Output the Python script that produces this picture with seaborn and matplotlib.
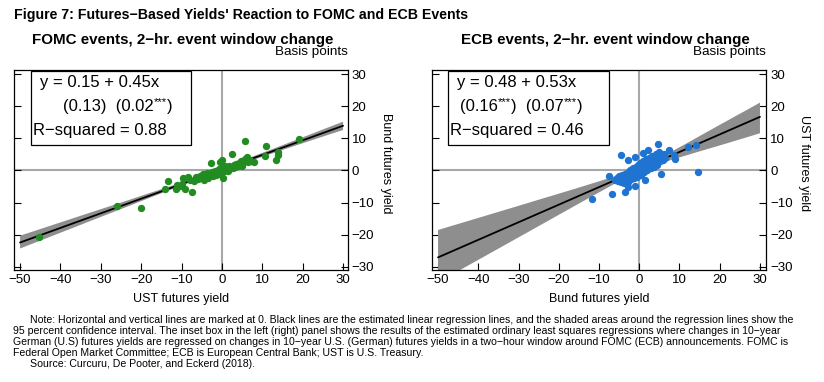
import numpy as np
import matplotlib
matplotlib.use("Agg")
import matplotlib.pyplot as plt
from matplotlib.patches import Rectangle
import seaborn as sns

# FOMC events: UST futures yield (x) vs Bund futures yield (y), basis points
fomc_ust = [-45.2, -25.9, -20.1, -14.0, -13.4, -11.2, -11.3, -10.5, -9.9, -9.7,
            -9.1, -8.5, -8.0, -7.3, -7.0, -6.5, -6.0, -5.5, -5.0, -4.8,
            -4.5, -4.0, -3.8, -3.5, -3.0, -2.8, -2.5, -2.2, -2.0, -1.6,
            -1.4, -1.0, -0.8, -0.5, -0.4, -0.2, 0.0, 0.0, 0.2, 0.3,
            0.6, 0.8, 1.0, 1.3, 1.6, 1.8, 2.0, 2.3, 2.6, 2.8,
            3.0, 3.3, 3.6, 3.9, 4.2, 4.5, 4.8, 5.0, 5.3, 5.6,
            5.8, 6.2, 6.5, 6.8, 7.2, 7.9, 10.6, 10.9, 13.5, 13.8,
            14.0, 19.2]
fomc_bund = [-20.6, -11.1, -11.6, -5.7, -3.3, -4.4, -5.7, -4.8, -4.2, -2.3,
             -5.7, -1.9, -3.0, -6.6, -3.2, -2.0, -2.6, -1.6, -2.4, -1.2,
             -3.0, -1.8, -0.9, -2.4, -1.2, 2.4, -0.6, -1.8, -0.9, -0.3,
             -1.4, -0.6, 0.4, -1.0, 2.6, 0.2, 3.1, -0.4, -2.3, 0.8,
             -0.2, 1.3, 0.4, 0.9, -0.1, 1.5, 0.7, 1.2, 5.0, 0.6,
             1.6, 1.0, 2.0, 1.4, 2.4, 1.8, 2.9, 1.5, 2.6, 9.0,
             3.4, 4.2, 2.5, 3.1, 2.8, 2.6, 4.4, 7.7, 3.3, 5.6,
             4.7, 9.7]

# ECB events: Bund futures yield (x) vs UST futures yield (y), basis points
ecb_bund = [-11.8, -7.5, -6.8, -4.6, -3.5, -2.7, -2.7, -1.1, -1.0, 1.0,
            1.5, 2.2, 4.6, 5.3, 6.0, 7.3, 8.7, 9.0, 12.0, 14.1, 14.7,
            -6.0, -5.6, -5.2, -5.0, -4.8, -4.5, -4.3, -4.0, -3.8, -3.6,
            -3.4, -3.2, -3.0, -2.9, -2.7, -2.5, -2.4, -2.2, -2.0, -1.9,
            -1.8, -1.6, -1.5, -1.3, -1.2, -1.0, -0.9, -0.8, -0.6, -0.5,
            -0.4, -0.2, -0.1, 0.0, 0.1, 0.2, 0.3, 0.4, 0.5, 0.6,
            0.7, 0.8, 0.9, 1.0, 1.1, 1.2, 1.3, 1.4, 1.6, 1.7,
            1.8, 2.0, 2.1, 2.3, 2.4, 2.6, 2.8, 2.9, 3.1, 3.2,
            3.4, 3.6, 3.7, 3.9, 4.1, 4.3, 4.5, 4.7, 4.9, 5.1,
            5.4, 5.7, 6.2, 6.5]
ecb_ust = [-8.75, -1.8, -7.3, 4.7, -6.8, -5.2, 3.3, -4.7, 4.2, 5.5,
           -2.9, 6.2, 8.3, -1.0, 3.1, 6.25, 4.7, 3.6, 7.3, 7.8, -0.5,
           -3.0, -2.4, -3.3, -1.8, -2.8, -3.6, -1.4, -2.6, -4.0, -1.2,
           -2.0, -2.8, -0.8, -3.6, -1.6, -2.4, 0.0, -1.2, -2.8, -0.4,
           -1.8, 0.6, -1.0, -2.4, 0.0, -1.2, 1.2, -0.6, -2.0, 0.6,
           -0.8, 1.6, -0.2, -1.4, 0.8, 2.4, -0.4, 1.2, -1.4, 0.4,
           1.8, -0.2, 1.0, 2.8, 0.2, 1.6, -0.6, 2.4, 0.8, 3.4,
           1.4, 0.2, 2.4, 1.2, 4.0, 2.0, 0.8, 3.0, 1.8, 4.4,
           2.4, 1.2, 3.6, 2.2, 5.0, 3.0, 1.8, 4.0, 5.6, 2.8,
           4.6, 3.4, 5.0, 3.8]

ticks = [-50, -40, -30, -20, -10, 0, 10, 20, 30]
yticks = [-30, -20, -10, 0, 10, 20, 30]

fomc_box = ["y = 0.15 + 0.45x", ["(0.13)  (0.02", "***", ")"], "R\u2212squared = 0.88"]
ecb_box = ["y = 0.48 + 0.53x", ["(0.16", "***", ")  (0.07", "***", ")"], "R\u2212squared = 0.46"]

sns.set_style("white")
plt.rcParams['font.family'] = ['Liberation Sans', 'DejaVu Sans']
plt.rcParams['axes.unicode_minus'] = True
plt.rcParams['text.color'] = 'black'

W, H = 824, 382
fig = plt.figure(figsize=(W / 100, H / 100), dpi=100)


def fx(px):
    return px / W


def fy(py):
    return 1 - py / H


def rich_line(ax, x, y, parts, fs):
    # normal pieces and small raised asterisks, chained one after another
    first = ax.text(x, y, parts[0], transform=ax.transAxes, fontsize=fs,
                    va='center', ha='left', zorder=6)
    prev = first
    for i, p in enumerate(parts[1:], start=1):
        if i % 2 == 1:
            prev = ax.annotate(p, xy=(1, 0.5), xycoords=prev, fontsize=fs * 0.68,
                               va='bottom', ha='left', zorder=6)
        else:
            prev = ax.annotate(p, xy=(1, 0), xycoords=(prev, first), fontsize=fs,
                               va='bottom', ha='left', zorder=6)


def panel(left, right, x, y, color, xlim, box, box_x, line2_x, xlabel, ylabel):
    ax = fig.add_axes([fx(left), fy(270), (right - left) / W, 200 / H])
    ax.axhline(0, color='#a8a8a8', lw=1.5, zorder=0)
    ax.axvline(0, color='#a8a8a8', lw=1.5, zorder=0)
    ax.set_xlim(-50, 30)
    sns.regplot(x=np.array(x), y=np.array(y), ax=ax, ci=95, seed=3, truncate=False,
                scatter_kws=dict(s=28, color=color, linewidths=0, alpha=1, zorder=4),
                line_kws=dict(color='black', lw=1.3, zorder=3))
    for coll in ax.collections:
        if 'Poly' in coll.__class__.__name__:
            coll.set_facecolor('#8e8e8e')
            coll.set_edgecolor('none')
            coll.set_alpha(1)
            coll.set_zorder(2)
    ax.set_xlim(*xlim)
    ax.set_ylim(-31.0, 31.25)
    ax.set_xticks(ticks)
    ax.set_yticks(yticks)
    ax.tick_params(axis='both', direction='in', length=5, width=0.8, labelsize=9.5,
                   left=True, right=True, labelleft=False, labelright=True,
                   bottom=True, top=False, pad=3, colors='black')
    for s in ax.spines.values():
        s.set_visible(True)
        s.set_color('black')
        s.set_linewidth(0.9)
    # inset box with regression results
    ax.add_patch(Rectangle((box_x, 0.625), 0.48, 0.368, transform=ax.transAxes,
                           facecolor='white', edgecolor='black', lw=0.9, zorder=5))
    ax.text(box_x + 0.027, 0.936, box[0], transform=ax.transAxes, fontsize=12,
            va='center', ha='left', zorder=6)
    rich_line(ax, line2_x, 0.816, box[1], 12)
    ax.text(box_x + 0.006, 0.696, box[2], transform=ax.transAxes, fontsize=12,
            va='center', ha='left', zorder=6)
    ax.text(0.5, -0.145, xlabel, transform=ax.transAxes, fontsize=9,
            ha='center', va='center')
    ax.text(1.115, 0.535, ylabel, transform=ax.transAxes, fontsize=9,
            ha='center', va='center', rotation=270)
    return ax


axL = panel(14, 347.5, fomc_ust, fomc_bund, '#228b22', (-51.5, 31.1), fomc_box,
            0.051, 0.147, 'UST futures yield', 'Bund futures yield')
axR = panel(432, 766, ecb_bund, ecb_ust, '#1e74d0', (-51.5, 31.5), ecb_box,
            0.049, 0.085, 'Bund futures yield', 'UST futures yield')

fig.text(fx(14), fy(15), "Figure 7: Futures\u2212Based Yields' Reaction to FOMC and ECB Events",
         fontsize=10.2, fontweight='bold', ha='left', va='center')
fig.text(fx(32), fy(40), "FOMC events, 2\u2212hr. event window change",
         fontsize=10.9, fontweight='bold', ha='left', va='center')
fig.text(fx(461), fy(40), "ECB events, 2\u2212hr. event window change",
         fontsize=10.9, fontweight='bold', ha='left', va='center')
fig.text(fx(348), fy(52), "Basis points", fontsize=9.7, ha='right', va='center')
fig.text(fx(766), fy(52), "Basis points", fontsize=9.7, ha='right', va='center')

note = [
    (30, "Note: Horizontal and vertical lines are marked at 0. Black lines are the estimated linear regression lines, and the shaded areas around the regression lines show the"),
    (13, "95 percent confidence interval. The inset box in the left (right) panel shows the results of the estimated ordinary least squares regressions where changes in 10\u2212year"),
    (13, "German (U.S) futures yields are regressed on changes in 10\u2212year U.S. (German) futures yields in a two\u2212hour window around FOMC (ECB) announcements. FOMC is"),
    (13, "Federal Open Market Committee; ECB is European Central Bank; UST is U.S. Treasury."),
    (30, "Source: Curcuru, De Pooter, and Eckerd (2018)."),
]
for i, (x0, line) in enumerate(note):
    fig.text(fx(x0), fy(319.7 + 11 * i), line, fontsize=7.6, ha='left', va='center')

fig.savefig('out.png', dpi=100)
